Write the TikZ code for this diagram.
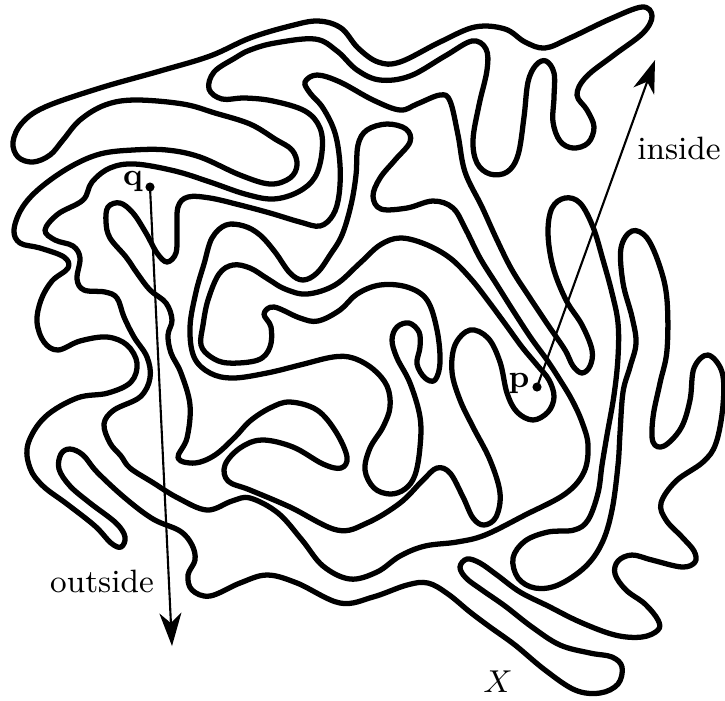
\documentclass[tikz,border=0pt]{standalone}
\usepackage{amsmath, amssymb}
\usepackage{tikz}
\usetikzlibrary{arrows.meta}

\tikzset{
  jordan/.style={line width=1.5pt, line join=round},
  ray/.style={line width=0.6pt, -{Stealth[length=3.3mm, width=2.2mm, inset=1mm]}},
  dot/.style={circle, fill, inner sep=0pt, minimum size=2.6pt},
  lbl/.style={font=\fontsize{9.2}{11}\selectfont}
}

\begin{document}
\begin{tikzpicture}[x=0.1mm, y=-0.1mm]
    \useasboundingbox (0,0) rectangle (725,700);

    % 1. Đường cong Jordan X
    \draw[jordan] plot[smooth cycle, tension=0.6] coordinates {
      (250,490) (290,507) (337,530) (367,523) (400,503) (423,480) (437,468) (450,473)
      (463,497) (473,518) (484,525) (496,517) (500,493) (490,460) (473,427) (460,400)
      (452,372) (455,345) (470,330) (488,338) (500,362) (507,393) (517,412) (533,420)
      (548,412) (554,397)
      (549,380) (537,365) (522,347) (506,325) (489,302) (471,279) (450,258) (425,244)
      (400,238) (380,245) (360,263) (335,285) (307,294) (285,289) (268,279) (250,268)
      (233,265) (219,274) (208,300) (203,325) (201,345) (211,357) (228,363) (258,360)
      (270,347) (271,327) (264,314) (274,307) (300,318) (318,321) (340,310) (357,294)
      (380,285) (407,287) (427,300) (437,330) (440,362) (435,380) (425,378) (417,364)
      (420,347) (419,332) (409,323) (397,327) (392,340) (397,358) (410,383) (420,417)
      (420,447) (415,475) (405,489) (390,494) (374,488) (365,470) (370,448) (383,427)
      (390,407) (387,386) (373,369) (353,358) (333,357) (300,365) (267,373) (233,378)
      (210,373) (194,357) (190,327) (196,292) (204,264) (212,238) (226,225) (244,226)
      (260,235) (275,252) (290,273) (303,280) (317,273) (330,255) (342,235) (351,205)
      (356,175) (358,145) (367,130) (387,124) (406,129) (410,142) (395,160) (380,178)
      (373,196) (381,209) (407,208) (433,201) (453,208)
      (466,230) (480,258) (497,285) (514,312) (531,338) (547,360) (560,380) (572,400)
      (582,422) (588,445) (584,472) (565,494) (525,515) (485,535) (457,542) (425,546)
      (400,556) (377,572) (350,579) (323,566) (302,540) (278,513) (250,498) (232,501)
      (207,510) (178,498) (152,482) (130,468)
      (121,456) (110,443) (104,424) (114,410) (140,397) (150,378) (147,357) (134,337)
      (124,317) (117,298) (105,292) (84,290) (77,279) (80,258) (73,246) (55,240)
      (45,230) (58,214) (83,200) (92,182) (110,168)
      (135,164) (175,171) (210,182) (245,194) (273,199) (298,192) (315,177) (322,152)
      (320,128) (305,111) (273,101) (245,98) (222,99) (209,89) (214,72) (235,58)
      (250,50) (275,43) (315,39) (337,51) (357,70) (380,80) (410,76) (445,56)
      (472,41) (486,49) (487,70) (479,105) (473,140) (477,163) (490,174) (507,172)
      (518,155) (524,117) (528,82) (536,65) (546,61) (554,73) (554,97) (553,122)
      (560,141) (573,148) (588,143) (594,127) (587,110) (577,95) (586,77) (614,55)
      (643,33) (652,16) (642,7) (610,19) (570,38) (545,48) (525,42) (505,29)
      (475,27) (440,42) (400,62) (378,62) (358,48) (341,28) (318,21) (290,26)
      (250,38) (210,56) (160,71) (100,88) (45,107) (22,123) (13,142)
      (18,157) (33,162) (50,155) (63,140) (80,120) (105,105) (135,100) (183,104)
      (215,113) (250,124) (275,139) (292,150) (297,165) (290,178) (270,184) (240,175)
      (200,157) (167,150) (133,150) (100,154) (70,167) (40,188) (22,208) (14,230)
      (20,243) (40,248) (64,257) (68,268) (52,281) (41,300) (37,322) (44,342)
      (58,350) (80,341) (107,337) (127,345) (137,363) (131,382) (108,393) (77,398)
      (45,417) (28,444) (30,468) (43,486) (67,504) (95,526) (111,543) (121,547)
      (125,537) (116,523) (90,503) (70,486) (59,469) (61,454) (70,449) (83,455)
      (97,472) (125,498) (153,519) (180,531) (192,545) (195,560) (188,575) (192,590)
      (210,596) (240,583) (267,575) (297,583) (340,603) (373,597) (407,585) (428,583)
      (448,594) (470,612) (490,627) (515,645) (545,670) (575,690) (600,693) (618,684)
      (622,667) (612,657) (590,653) (560,645) (532,627) (505,606) (482,590) (466,578)
      (460,567) (467,559) (480,563) (497,575) (520,592) (548,606) (580,622) (615,635)
      (642,637) (658,630)
      (658,620) (645,604) (626,590) (615,574) (618,561) (632,555) (652,560) (682,567)
      (695,562) (694,551) (682,537) (666,520) (661,503) (676,481) (703,462) (716,443)
      (723,405) (722,372) (708,355) (694,368) (690,400) (681,428) (664,446) (653,442)
      (653,417) (660,383) (667,350) (667,300) (660,267) (647,238) (632,231) (621,248)
      (623,283) (632,317) (636,343) (630,367) (623,392) (620,433) (618,465) (612,510)
      (602,543) (585,567) (558,585) (535,588) (518,578) (513,558) (525,541) (548,532)
      (574,530) (588,520) (598,493) (602,465) (607,435) (614,395) (618,357) (618,323)
      (612,293) (603,260) (593,227) (580,203) (565,198) (552,208) (548,233) (553,267)
      (566,300) (582,325) (592,350) (590,366) (582,373) (573,366) (565,350) (548,325)
      (530,298) (512,270) (497,240) (482,207) (465,172) (458,135) (450,101) (440,95)
      (417,104) (400,110) (373,100) (340,82) (317,75) (305,82) (310,93) (323,108)
      (335,133) (340,165) (339,195) (333,215) (320,226) (300,222) (270,213) (240,205)
      (210,198) (188,197) (178,207) (177,232) (176,253) (167,262) (157,253) (146,233)
      (133,213) (120,203) (108,207) (106,222) (110,238) (126,257) (137,273) (150,290)
      (166,303) (172,320) (168,335) (171,353) (181,373) (190,405) (187,438) (178,458)
      (195,463) (215,455) (235,437) (250,421) (270,408) (290,402) (317,410) (336,432)
      (347,457) (341,468) (323,464) (293,447) (262,440) (240,448) (225,465) (228,481)
    };

    % 2. Hai điểm p, q
    \node[dot] (q) at (150,187) {};
    \node[dot] (p) at (537,387) {};
    \coordinate (qend) at (172,646);
    \coordinate (pend) at (655,60);

    % 3. Hai tia
    \draw[ray] (q.center) -- (qend);
    \draw[ray] (p.center) -- (pend);

    % 4. Nhãn
    \node[lbl] (qlabel) at (133,182) {$\mathbf{q}$};
    \node[lbl] (plabel) at (519,384) {$\mathbf{p}$};
    \node[lbl] (inlabel) at (679,148) {inside};
    \node[lbl] (outlabel) at (102,581) {outside};
    \node[lbl] (xlabel) at (498,682) {$X$};
\end{tikzpicture}
\end{document}
